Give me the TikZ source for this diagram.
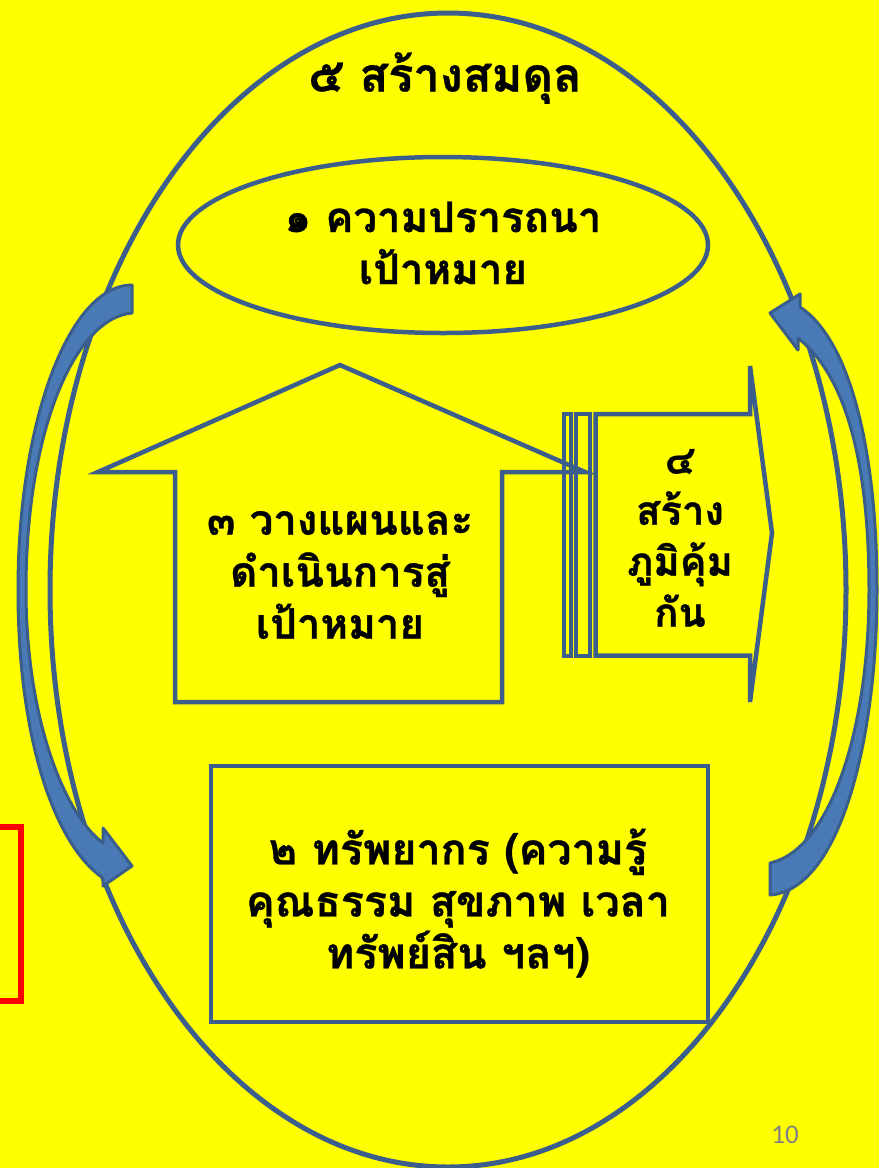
\documentclass[tikz,border=0pt]{standalone}
\usepackage{fontspec}
\newfontfamily\thaifont[Script=Thai,BoldFeatures={FakeBold=0.8}]{Loma}
\newfontfamily\numfont{Carlito}
\definecolor{bg}{RGB}{255,255,0}
\definecolor{ln}{RGB}{59,94,140}
\definecolor{arf}{RGB}{74,122,181}
\definecolor{ard}{RGB}{58,94,140}
\definecolor{pg}{RGB}{128,128,128}
\begin{document}
\begin{tikzpicture}[x=1pt,y=-1pt,
  shapeline/.style={draw=ln,line width=4.5pt,line join=miter},
  curvearrow/.style={fill=arf,draw=ard,line width=3pt,line join=round},
  thaitext/.style={align=center,font=\thaifont\bfseries\fontsize{42}{52}\selectfont,text=black,inner sep=0pt}]
\useasboundingbox (0,0) rectangle (879,1168);
\fill[bg] (0,0) rectangle (879,1168);
% red frame at left
\draw[red,line width=6pt] (-10,827) -- (20.5,827) -- (20.5,1001) -- (-10,1001);
% big ellipse
\draw[shapeline,line width=5pt] (448,590) ellipse [x radius=398pt,y radius=577pt];
% left curved arrow
\draw[curvearrow] (132,285) .. controls (69,285) and (18,422) .. (18,590)
  .. controls (18,740) and (55,845) .. (103,878)
  -- (103,886) -- (132,866) -- (103,828) -- (103,843)
  .. controls (65,815) and (26,720) .. (26,590)
  .. controls (26,430) and (75,318) .. (132,313) -- cycle;
% right curved arrow
\draw[curvearrow] (770,313) -- (800,294) -- (800,307)
  .. controls (850,340) and (877,450) .. (877,590)
  .. controls (877,740) and (840,890) .. (770,895) -- (770,863)
  .. controls (830,850) and (869,730) .. (869,590)
  .. controls (869,460) and (845,375) .. (798,338) -- (798,350) -- cycle;
% small ellipse 1
\draw[shapeline] (443,245) ellipse [x radius=265pt,y radius=88pt];
% up arrow 3
\draw[shapeline] (175,702) -- (175,472) -- (98,472) -- (340,365) -- (585,472) -- (502,472) -- (502,702) -- cycle;
% striped right arrow 4
\draw[shapeline,line width=4pt] (563.5,414) rectangle (571,655.5);
\draw[shapeline,line width=4pt] (576,414) rectangle (590,655.5);
\draw[shapeline] (595.5,414) -- (750,414) -- (750,366) -- (772,533) -- (750,702) -- (750,655.5) -- (595.5,655.5) -- cycle;
% rectangle 2
\draw[shapeline] (211,766) rectangle (708,1022);
% texts
\node[thaitext,font=\thaifont\bfseries\fontsize{47}{52}\selectfont] (t5) at (445,78) {๕ สร้างสมดุล};
\node[thaitext] (t1) at (443,243) {๑ ความปรารถนา\\เป้าหมาย};
\node[thaitext] (t3) at (340,575) {๓ วางแผนและ\\ดำเนินการสู่\\เป้าหมาย};
\node[thaitext,font=\thaifont\bfseries\fontsize{40}{51}\selectfont] (t4) at (680,538) {๔\\สร้าง\\ภูมิคุ้ม\\กัน};
\node[thaitext,font=\thaifont\bfseries\fontsize{43}{52}\selectfont] (t2) at (458,903) {๒ ทรัพยากร (ความรู้\\คุณธรรม สุขภาพ เวลา\\ทรัพย์สิน ฯลฯ)};
\node[font=\numfont\fontsize{27}{30}\selectfont,text=pg,inner sep=0pt] (pn) at (785,1135) {10};
\end{tikzpicture}
\end{document}
